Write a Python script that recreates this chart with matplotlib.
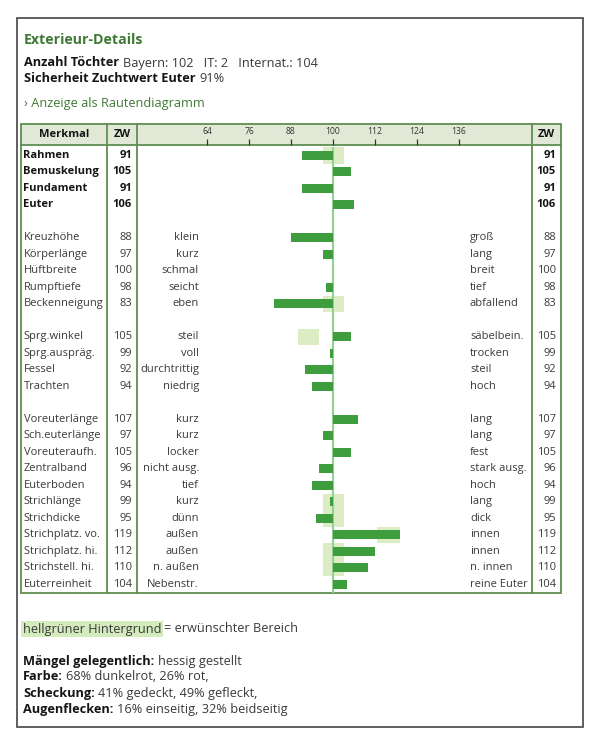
import matplotlib
matplotlib.use("Agg")
import matplotlib.pyplot as plt
from matplotlib.patches import Rectangle

plt.rcParams['font.family'] = ['Open Sans', 'DejaVu Sans']

# table data
merkmale = ["Rahmen", "Bemuskelung", "Fundament", "Euter", "",
            "Kreuzhöhe", "Körperlänge", "Hüftbreite", "Rumpftiefe", "Beckenneigung", "",
            "Sprg.winkel", "Sprg.auspräg.", "Fessel", "Trachten", "",
            "Voreuterlänge", "Sch.euterlänge", "Voreuteraufh.", "Zentralband", "Euterboden",
            "Strichlänge", "Strichdicke", "Strichplatz. vo.", "Strichplatz. hi.",
            "Strichstell. hi.", "Euterreinheit"]
zw = [91, 105, 91, 106, None,
      88, 97, 100, 98, 83, None,
      105, 99, 92, 94, None,
      107, 97, 105, 96, 94, 99, 95, 119, 112, 110, 104]
links = ["", "", "", "", "",
         "klein", "kurz", "schmal", "seicht", "eben", "",
         "steil", "voll", "durchtrittig", "niedrig", "",
         "kurz", "kurz", "locker", "nicht ausg.", "tief", "kurz", "dünn",
         "außen", "außen", "n. außen", "Nebenstr."]
rechts = ["", "", "", "", "",
          "groß", "lang", "breit", "tief", "abfallend", "",
          "säbelbein.", "trocken", "steil", "hoch", "",
          "lang", "lang", "fest", "stark ausg.", "hoch", "lang", "dick",
          "innen", "innen", "n. innen", "reine Euter"]
n_bold = 4

# desired range (light green background): row name -> (from, to)
wunsch_rows = ["Rahmen", "Beckenneigung", "Sprg.winkel", "Strichlänge", "Strichdicke",
               "Strichplatz. vo.", "Strichplatz. hi.", "Strichstell. hi."]
wunsch_lo = [97, 97, 90, 97, 97, 112.5, 97, 97]
wunsch_hi = [103, 103, 96, 103, 103, 119, 103, 103]

ticks = [64, 76, 88, 100, 112, 124, 136]

# colours
GREEN_T = "#3f7a34"
BORDER = "#5e8f50"
HEAD_BG = "#e1e9d6"
BAR = "#3e9e3e"
BAND = "#dcedc6"
MID = "#93d093"
TXT = "#3a3a3a"
BLK = "#151515"

FS_ROW = 8.0
FS_INFO = 9.2

W, H = 600, 749
fig = plt.figure(figsize=(W / 100, H / 100), dpi=100)
page = fig.add_axes([0, 0, 1, 1])
page.set_xlim(0, W)
page.set_ylim(H, 0)
page.axis("off")


def px_rect(x0, y0, x1, y1):
    return [x0 / W, 1 - y1 / H, (x1 - x0) / W, (y1 - y0) / H]


renderer = fig.canvas.get_renderer()


def mixed(x, y, parts, size=FS_INFO):
    # parts: list of (text, bold, color)
    for txt, bold, col in parts:
        t = page.text(x, y, txt, fontsize=size, fontweight="bold" if bold else "normal",
                      color=col, ha="left", va="center")
        bb = t.get_window_extent(renderer)
        x = page.transData.inverted().transform((bb.x1, 0))[0] + 3.5
    return x


# outer frame
page.add_patch(Rectangle((17, 18), 566, 709, fill=False, edgecolor="#444444", lw=1.2))

page.text(24, 40, "Exterieur-Details", fontsize=10.2, fontweight="bold", color=GREEN_T,
          ha="left", va="center")
mixed(24, 63, [("Anzahl Töchter", True, BLK), ("Bayern: 102   IT: 2   Internat.: 104", False, TXT)])
mixed(24, 79, [("Sicherheit Zuchtwert Euter", True, BLK), ("91%", False, TXT)])
page.text(24, 103, "› Anzeige als Rautendiagramm", fontsize=FS_INFO, color=GREEN_T,
          ha="left", va="center")

# table geometry
TX0, TX1 = 21, 561
TY0, HY1 = 124, 145
ROW_TOP, ROW_H = 147, 16.5
n = len(merkmale)
TY1 = ROW_TOP + n * ROW_H
C1, C2, C3 = 107, 137, 532
MID_PX, PPU = 333, 3.5

page.add_patch(Rectangle((TX0, TY0), TX1 - TX0, HY1 - TY0, facecolor=HEAD_BG, edgecolor="none"))
page.add_patch(Rectangle((TX0, TY0), TX1 - TX0, TY1 - TY0, fill=False, edgecolor=BORDER, lw=1.3))
page.plot([TX0, TX1], [HY1, HY1], color=BORDER, lw=1.3)
for cx in (C1, C2, C3):
    page.plot([cx, cx], [TY0, TY1], color=BORDER, lw=1.3)

page.text((TX0 + C1) / 2, (TY0 + HY1) / 2, "Merkmal", fontsize=FS_ROW, fontweight="bold",
          color=BLK, ha="center", va="center")
page.text((C1 + C2) / 2, (TY0 + HY1) / 2, "ZW", fontsize=FS_ROW, fontweight="bold",
          color=BLK, ha="center", va="center")
page.text((C3 + TX1) / 2, (TY0 + HY1) / 2, "ZW", fontsize=FS_ROW, fontweight="bold",
          color=BLK, ha="center", va="center")

for i, name in enumerate(merkmale):
    if not name:
        continue
    y = ROW_TOP + (i + 0.5) * ROW_H
    bold = i < n_bold
    fw = "bold" if bold else "normal"
    col = BLK if bold else TXT
    page.text(23.5, y, name, fontsize=FS_ROW, fontweight=fw, color=col, ha="left", va="center")
    page.text(132, y, str(zw[i]), fontsize=FS_ROW, fontweight=fw, color=col, ha="right", va="center")
    page.text(556, y, str(zw[i]), fontsize=FS_ROW, fontweight=fw, color=col, ha="right", va="center")
    if links[i]:
        page.text(199, y, links[i], fontsize=FS_ROW, color=TXT, ha="right", va="center")
    if rechts[i]:
        page.text(470, y, rechts[i], fontsize=FS_ROW, color=TXT, ha="left", va="center")

# bar chart column
xlo = 100 - (MID_PX - C2) / PPU
xhi = 100 + (C3 - MID_PX) / PPU

ax = fig.add_axes(px_rect(C2, ROW_TOP, C3, TY1))
ax.set_facecolor("none")
ax.set_xlim(xlo, xhi)
ax.set_ylim(n - 0.5, -0.5)
ax.axis("off")

band_idx = [merkmale.index(r) for r in wunsch_rows]
ax.barh(band_idx, [h - l for l, h in zip(wunsch_lo, wunsch_hi)], left=wunsch_lo,
        height=1.0, color=BAND, zorder=1)
ax.axvline(100, color=MID, lw=1.5, zorder=2)
bar_idx = [i for i, v in enumerate(zw) if v is not None]
bar_val = [zw[i] - 100 for i in bar_idx]
ax.barh(bar_idx, bar_val, left=100, height=0.52, color=BAR, zorder=3)

# scale in header
axh = fig.add_axes(px_rect(C2, TY0, C3, HY1))
axh.set_facecolor("none")
axh.set_xlim(xlo, xhi)
axh.set_ylim(0, 1)
axh.set_xticks(ticks)
axh.set_yticks([])
axh.tick_params(axis="x", direction="in", length=4, width=0.9, colors="#333333",
                labelbottom=False, pad=0)
for s in axh.spines.values():
    s.set_visible(False)
for t in ticks:
    axh.text(t, 0.66, str(t), transform=axh.get_xaxis_transform(), fontsize=6.2,
             color="#333333", ha="center", va="center")

# legend line
t = page.text(23, 629, "hellgrüner Hintergrund", fontsize=FS_INFO, color=TXT, ha="left",
              va="center", bbox=dict(boxstyle="square,pad=0.15", facecolor="#d3ebbd",
                                     edgecolor="none"))
bb = t.get_window_extent(renderer)
x_after = page.transData.inverted().transform((bb.x1, 0))[0] + 3
page.text(x_after, 629, "= erwünschter Bereich", fontsize=FS_INFO, color=TXT, ha="left", va="center")

mixed(23, 661, [("Mängel gelegentlich:", True, BLK), ("hessig gestellt", False, TXT)])
mixed(23, 677, [("Farbe:", True, BLK), ("68% dunkelrot, 26% rot,", False, TXT)])
mixed(23, 693, [("Scheckung:", True, BLK), ("41% gedeckt, 49% gefleckt,", False, TXT)])
mixed(23, 709, [("Augenflecken:", True, BLK), ("16% einseitig, 32% beidseitig", False, TXT)])

fig.savefig("out.png", dpi=100, facecolor="white")
